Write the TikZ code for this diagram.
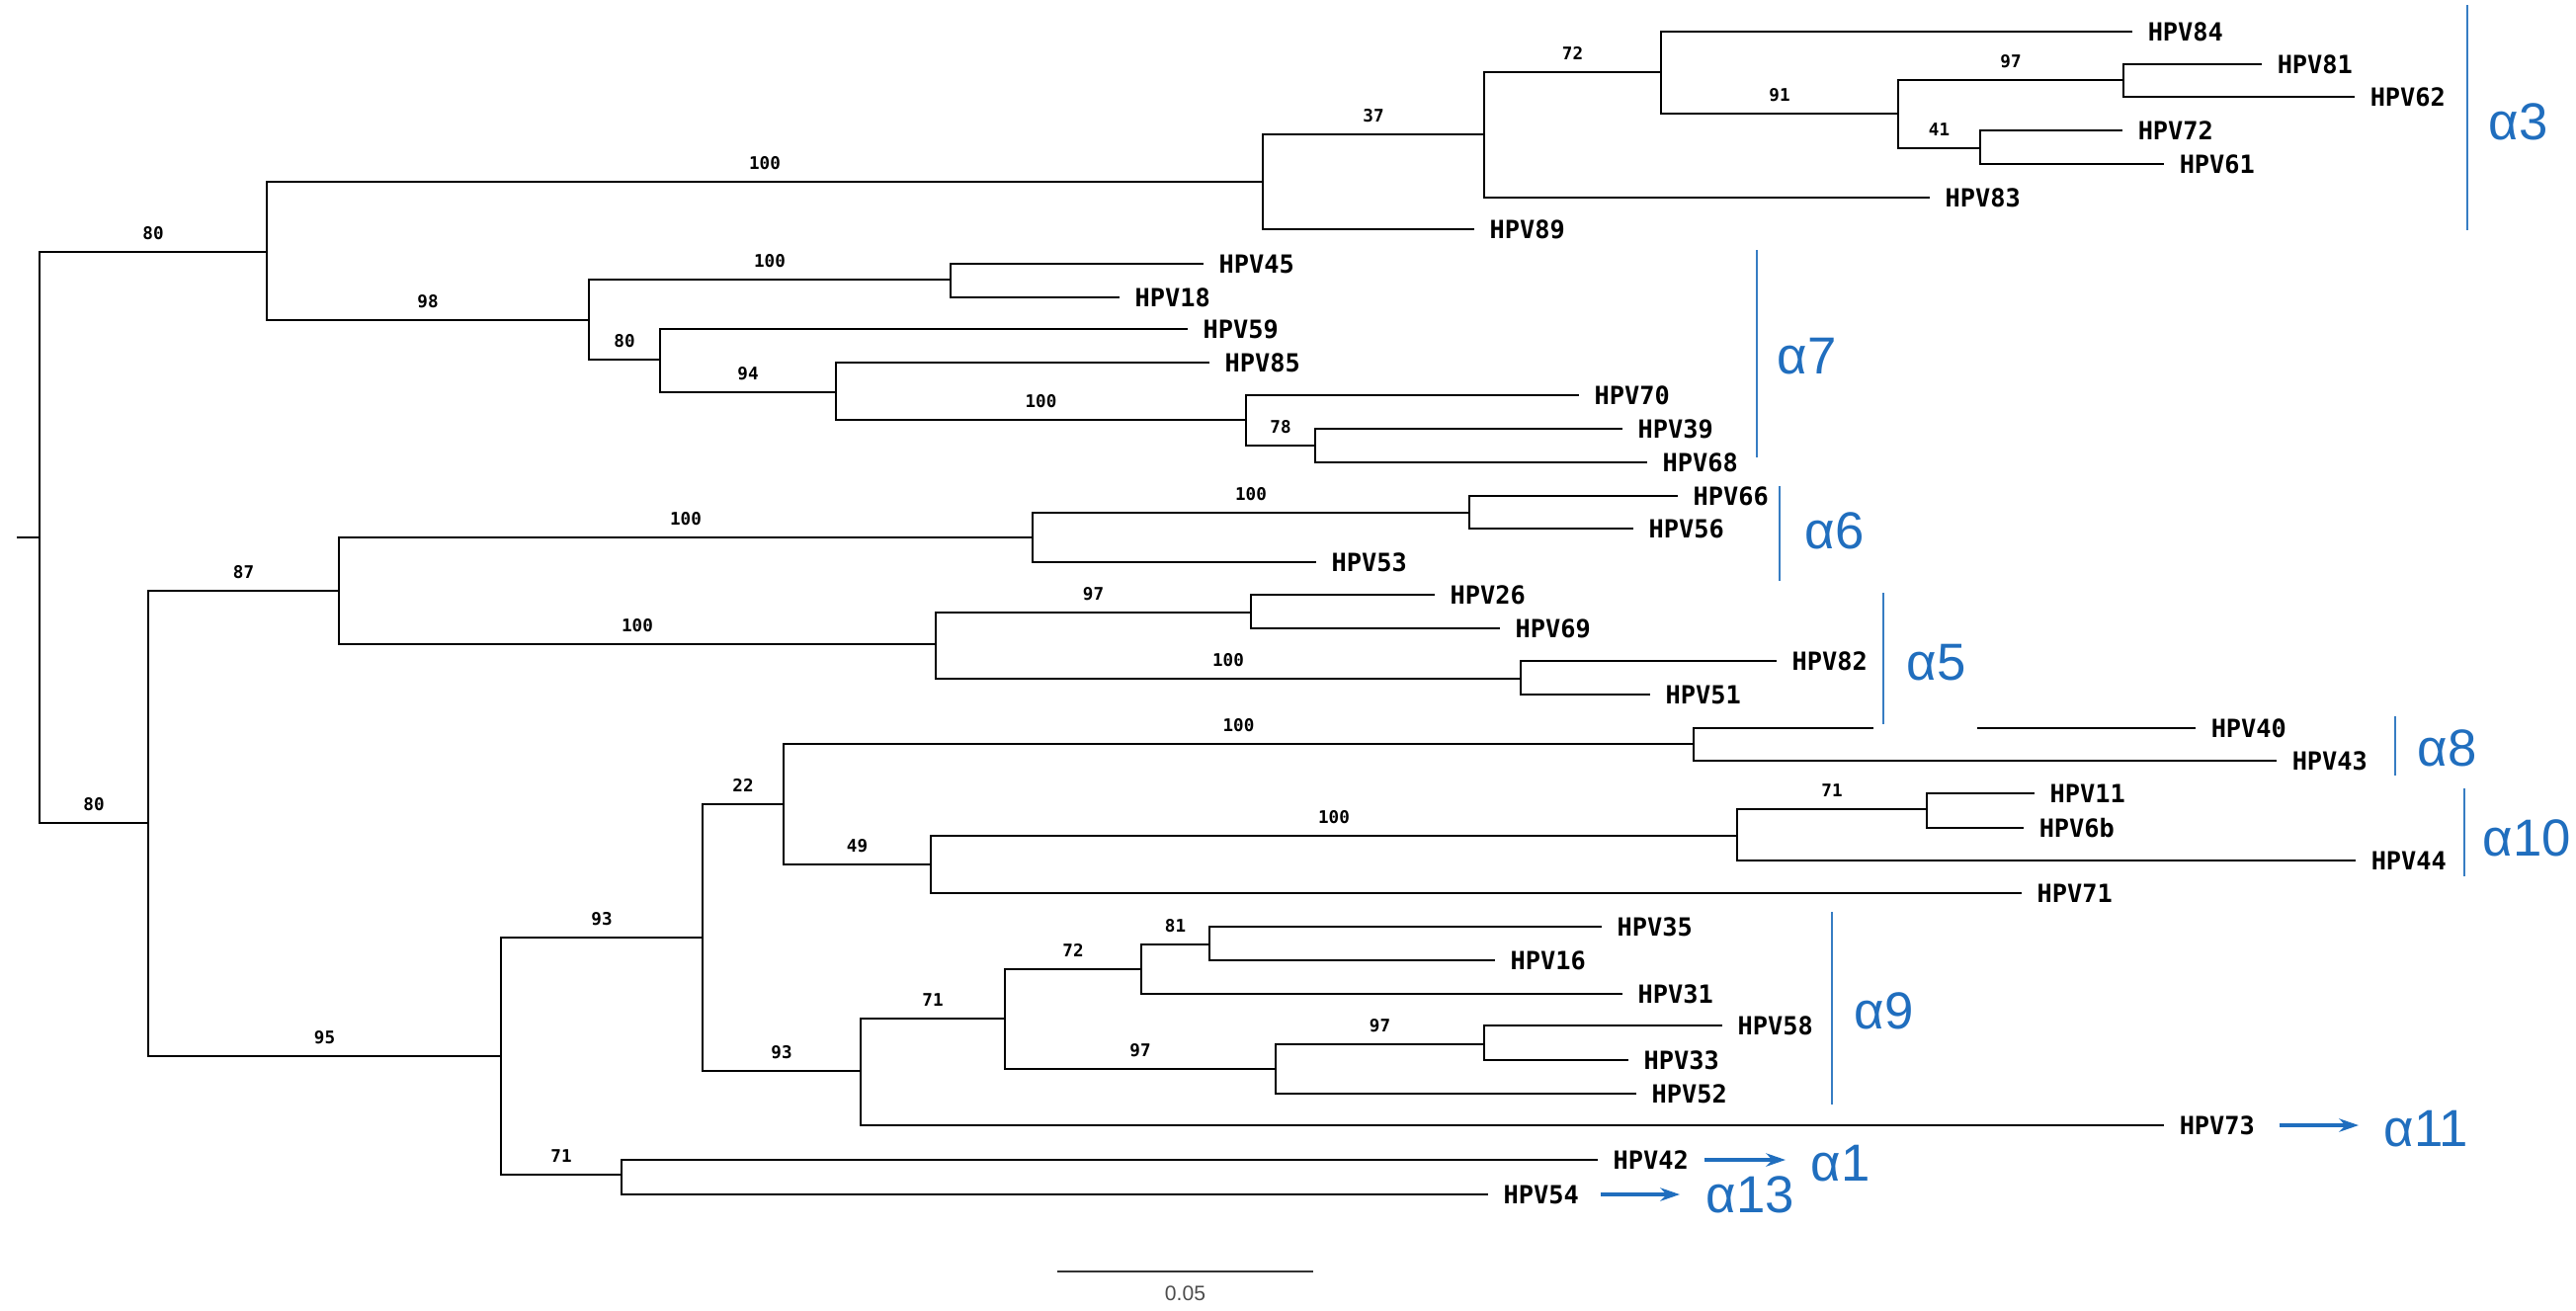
\documentclass[tikz,border=0pt]{standalone}
\usepackage{fontspec}
\setmainfont{Liberation Sans}
\newfontfamily\leafmono{DejaVu Sans Mono}
\usetikzlibrary{arrows.meta}
\definecolor{cblue}{RGB}{32,110,190}
\definecolor{barblue}{RGB}{55,125,195}
\tikzset{
  br/.style={line width=0.6pt, black},
  boot/.style={font=\leafmono\bfseries\fontsize{5}{6}\selectfont, inner sep=0pt,
    text height=3.65pt, text depth=0pt, above=0.115cm},
  leaf/.style={anchor=west, font=\leafmono\bfseries\fontsize{7.2}{8}\selectfont,
    inner xsep=0.15cm, inner ysep=0pt, text height=5.2pt, text depth=0pt},
  clade/.style={line width=0.7pt, barblue},
  alab/.style={anchor=west, font=\fontsize{15}{18}\selectfont, text=cblue,
    inner sep=0pt, text height=10.7pt, text depth=0pt},
  arr/.style={line width=1pt, cblue, -{Stealth[length=5.6pt,width=3.8pt]}}
}
\begin{document}
\begin{tikzpicture}[x=0.01cm, y=-0.01cm]
\useasboundingbox (0,0) rectangle (2607,1326);
% internal nodes
\coordinate (stub) at (17,544);
\coordinate (root) at (40,544);
\coordinate (A) at (270,255);
\coordinate (B) at (1278,184);
\coordinate (C) at (1502,136);
\coordinate (D) at (1681,73);
\coordinate (E) at (1921,115);
\coordinate (F) at (2149,81);
\coordinate (G) at (2004,150);
\coordinate (H) at (596,324);
\coordinate (I) at (962,283);
\coordinate (J) at (668,364);
\coordinate (K) at (846,397);
\coordinate (L) at (1261,425);
\coordinate (M) at (1331,451);
\coordinate (N) at (150,833);
\coordinate (O) at (343,598);
\coordinate (P) at (1045,544);
\coordinate (Q) at (1487,519);
\coordinate (R) at (947,652);
\coordinate (S) at (1266,620);
\coordinate (T) at (1539,687);
\coordinate (U) at (507,1069);
\coordinate (V) at (711,949);
\coordinate (W) at (793,814);
\coordinate (X) at (1714,753);
\coordinate (Y) at (942,875);
\coordinate (Z) at (1758,846);
\coordinate (Z2) at (1950,819);
\coordinate (AA) at (871,1084);
\coordinate (AB) at (1017,1031);
\coordinate (AC) at (1155,981);
\coordinate (AD) at (1224,956);
\coordinate (AE) at (1291,1082);
\coordinate (AF) at (1502,1057);
\coordinate (AG) at (629,1189);
\coordinate (gapL) at (1896,737);
\coordinate (gapR) at (2001,737);
% leaves
\node[leaf] (h84) at (2158,32) {HPV84};
\node[leaf] (h81) at (2289,65) {HPV81};
\node[leaf] (h62) at (2383,98) {HPV62};
\node[leaf] (h72) at (2148,132) {HPV72};
\node[leaf] (h61) at (2190,166) {HPV61};
\node[leaf] (h83) at (1953,200) {HPV83};
\node[leaf] (h89) at (1492,232) {HPV89};
\node[leaf] (h45) at (1218,267) {HPV45};
\node[leaf] (h18) at (1133,301) {HPV18};
\node[leaf] (h59) at (1202,333) {HPV59};
\node[leaf] (h85) at (1224,367) {HPV85};
\node[leaf] (h70) at (1598,400) {HPV70};
\node[leaf] (h39) at (1642,434) {HPV39};
\node[leaf] (h68) at (1667,468) {HPV68};
\node[leaf] (h66) at (1698,502) {HPV66};
\node[leaf] (h56) at (1653,535) {HPV56};
\node[leaf] (h53) at (1332,569) {HPV53};
\node[leaf] (h26) at (1452,602) {HPV26};
\node[leaf] (h69) at (1518,636) {HPV69};
\node[leaf] (h82) at (1798,669) {HPV82};
\node[leaf] (h51) at (1670,703) {HPV51};
\node[leaf] (h40) at (2222,737) {HPV40};
\node[leaf] (h43) at (2304,770) {HPV43};
\node[leaf] (h11) at (2059,803) {HPV11};
\node[leaf] (h6b) at (2048,838) {HPV6b};
\node[leaf] (h44) at (2384,871) {HPV44};
\node[leaf] (h71) at (2046,904) {HPV71};
\node[leaf] (h35) at (1621,938) {HPV35};
\node[leaf] (h16) at (1513,972) {HPV16};
\node[leaf] (h31) at (1642,1006) {HPV31};
\node[leaf] (h58) at (1743,1038) {HPV58};
\node[leaf] (h33) at (1648,1073) {HPV33};
\node[leaf] (h52) at (1656,1107) {HPV52};
\node[leaf] (h73) at (2190,1139) {HPV73};
\node[leaf] (h42) at (1617,1174) {HPV42};
\node[leaf] (h54) at (1506,1209) {HPV54};
% branches
\draw[br] (stub) -- (root);
\draw[br] (root) |- (A) node[boot,pos=0.75]{80};
\draw[br] (A) |- (B) node[boot,pos=0.75]{100};
\draw[br] (B) |- (C) node[boot,pos=0.75]{37};
\draw[br] (C) |- (D) node[boot,pos=0.75]{72};
\draw[br] (D) |- (h84.west);
\draw[br] (D) |- (E) node[boot,pos=0.75]{91};
\draw[br] (E) |- (F) node[boot,pos=0.75]{97};
\draw[br] (F) |- (h81.west);
\draw[br] (F) |- (h62.west);
\draw[br] (E) |- (G) node[boot,pos=0.75]{41};
\draw[br] (G) |- (h72.west);
\draw[br] (G) |- (h61.west);
\draw[br] (C) |- (h83.west);
\draw[br] (B) |- (h89.west);
\draw[br] (A) |- (H) node[boot,pos=0.75]{98};
\draw[br] (H) |- (I) node[boot,pos=0.75]{100};
\draw[br] (I) |- (h45.west);
\draw[br] (I) |- (h18.west);
\draw[br] (H) |- (J) node[boot,pos=0.75]{80};
\draw[br] (J) |- (h59.west);
\draw[br] (J) |- (K) node[boot,pos=0.75]{94};
\draw[br] (K) |- (h85.west);
\draw[br] (K) |- (L) node[boot,pos=0.75]{100};
\draw[br] (L) |- (h70.west);
\draw[br] (L) |- (M) node[boot,pos=0.75]{78};
\draw[br] (M) |- (h39.west);
\draw[br] (M) |- (h68.west);
\draw[br] (root) |- (N) node[boot,pos=0.75]{80};
\draw[br] (N) |- (O) node[boot,pos=0.75]{87};
\draw[br] (O) |- (P) node[boot,pos=0.75]{100};
\draw[br] (P) |- (Q) node[boot,pos=0.75]{100};
\draw[br] (Q) |- (h66.west);
\draw[br] (Q) |- (h56.west);
\draw[br] (P) |- (h53.west);
\draw[br] (O) |- (R) node[boot,pos=0.75]{100};
\draw[br] (R) |- (S) node[boot,pos=0.75]{97};
\draw[br] (S) |- (h26.west);
\draw[br] (S) |- (h69.west);
\draw[br] (R) |- (T) node[boot,pos=0.75]{100};
\draw[br] (T) |- (h82.west);
\draw[br] (T) |- (h51.west);
\draw[br] (N) |- (U) node[boot,pos=0.75]{95};
\draw[br] (U) |- (V) node[boot,pos=0.75]{93};
\draw[br] (V) |- (W) node[boot,pos=0.75]{22};
\draw[br] (W) |- (X) node[boot,pos=0.75]{100};
\draw[br] (X) |- (gapL);
\draw[br] (gapR) -- (h40.west);
\draw[br] (X) |- (h43.west);
\draw[br] (W) |- (Y) node[boot,pos=0.75]{49};
\draw[br] (Y) |- (Z) node[boot,pos=0.75]{100};
\draw[br] (Z) |- (Z2) node[boot,pos=0.75]{71};
\draw[br] (Z2) |- (h11.west);
\draw[br] (Z2) |- (h6b.west);
\draw[br] (Z) |- (h44.west);
\draw[br] (Y) |- (h71.west);
\draw[br] (V) |- (AA) node[boot,pos=0.75]{93};
\draw[br] (AA) |- (AB) node[boot,pos=0.75]{71};
\draw[br] (AB) |- (AC) node[boot,pos=0.75]{72};
\draw[br] (AC) |- (AD) node[boot,pos=0.75]{81};
\draw[br] (AD) |- (h35.west);
\draw[br] (AD) |- (h16.west);
\draw[br] (AC) |- (h31.west);
\draw[br] (AB) |- (AE) node[boot,pos=0.75]{97};
\draw[br] (AE) |- (AF) node[boot,pos=0.75]{97};
\draw[br] (AF) |- (h58.west);
\draw[br] (AF) |- (h33.west);
\draw[br] (AE) |- (h52.west);
\draw[br] (AA) |- (h73.west);
\draw[br] (U) |- (AG) node[boot,pos=0.75]{71};
\draw[br] (AG) |- (h42.west);
\draw[br] (AG) |- (h54.west);
% clade bars and labels
\coordinate (b3t) at (2497,5);   \coordinate (b3b) at (2497,233);
\coordinate (b7t) at (1778,253); \coordinate (b7b) at (1778,463);
\coordinate (b6t) at (1801,492); \coordinate (b6b) at (1801,588);
\coordinate (b5t) at (1906,600); \coordinate (b5b) at (1906,733);
\coordinate (b8t) at (2424,725); \coordinate (b8b) at (2424,785);
\coordinate (b10t) at (2494,798); \coordinate (b10b) at (2494,887);
\coordinate (b9t) at (1854,923); \coordinate (b9b) at (1854,1118);
\draw[clade] (b3t) -- (b3b);
\draw[clade] (b7t) -- (b7b);
\draw[clade] (b6t) -- (b6b);
\draw[clade] (b5t) -- (b5b);
\draw[clade] (b8t) -- (b8b);
\draw[clade] (b10t) -- (b10b);
\draw[clade] (b9t) -- (b9b);
\node[alab] (a3) at (2518,123) {α3};
\node[alab] (a7) at (1798,360) {α7};
\node[alab] (a6) at (1826,537) {α6};
\node[alab] (a5) at (1929,670) {α5};
\node[alab] (a8) at (2446,757) {α8};
\node[alab] (a10) at (2512,848) {α10};
\node[alab] (a9) at (1876,1023) {α9};
\node[alab] (a11) at (2412,1142) {α11};
\node[alab] (a1) at (1832,1177) {α1};
\node[alab] (a13) at (1726,1209) {α13};
\draw[arr, shorten <=0.09cm, shorten >=0.25cm] (h73.east) -- (h73.east -| a11.west);
\draw[arr, shorten <=0cm, shorten >=0.25cm] (h42.east) -- (h42.east -| a1.west);
\draw[arr, shorten <=0.06cm, shorten >=0.26cm] (h54.east) -- (h54.east -| a13.west);
% scale bar
\coordinate (sbL) at (1070,1287);
\coordinate (sbR) at (1329,1287);
\draw[line width=0.7pt, black!80] (sbL) -- (sbR)
  node[midway, below=0.13cm, inner sep=0pt, text height=4.3pt, text depth=0pt,
       font=\fontsize{6}{7}\selectfont, text=black!70] (sblab) {0.05};
\end{tikzpicture}
\end{document}
